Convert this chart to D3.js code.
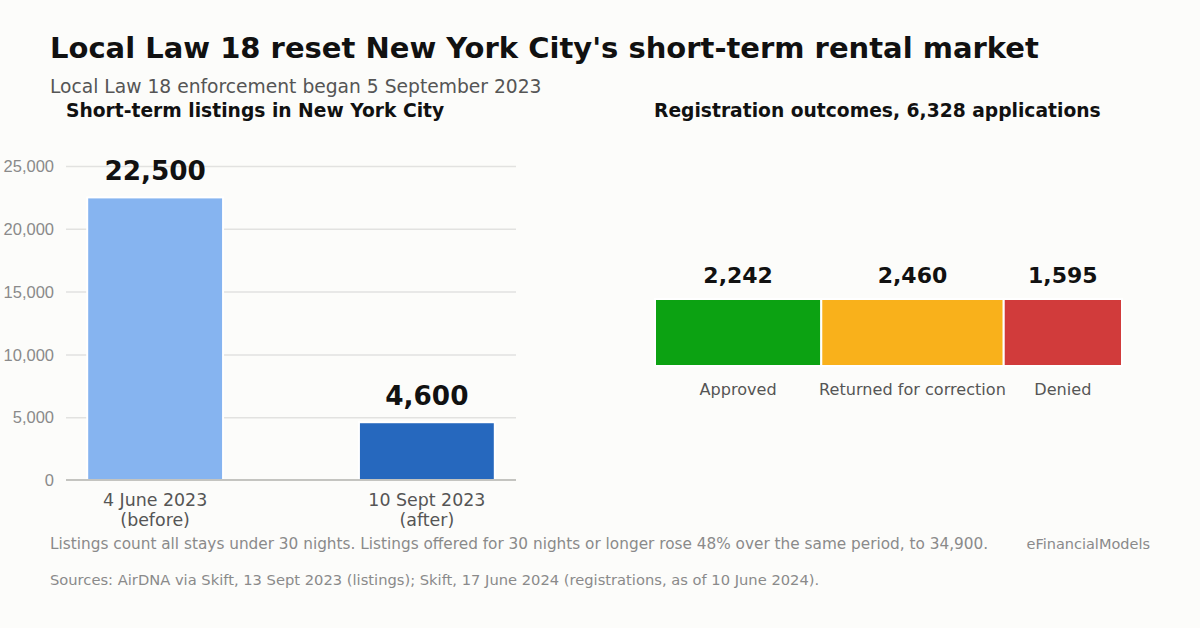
<!DOCTYPE html>
<html lang="en">
<head>
    <meta charset="UTF-8">
    <title>Local Law 18 reset New York City's short-term rental market</title>
    <script src="https://d3js.org/d3.v7.min.js"></script>
    <style>
        body {
            margin: 0;
            background-color: #fcfcfa;
            font-family: 'DejaVu Sans', sans-serif;
        }
        svg { display: block; }
        .grid line { stroke: #e2e2e0; stroke-width: 1.5; }
        .grid path { stroke: none; }
        .ytick text { fill: #8a8a8a; font-size: 16.5px; }
        .ytick path, .ytick line { stroke: none; }
    </style>
</head>
<body>
<div id="chart"></div>
<script>
    // Listings panel
    const listingDates = ["4 June 2023|(before)", "10 Sept 2023|(after)"];
    const listingCounts = [22500, 4600];
    const listingColors = ["#86b4f0", "#2668be"];
    const yTicks = [0, 5000, 10000, 15000, 20000, 25000];

    // Registration panel
    const outcomes = ["Approved", "Returned for correction", "Denied"];
    const outcomeCounts = [2242, 2460, 1595];
    const outcomeColors = ["#0ca212", "#f9b11b", "#d13b3b"];

    const W = 1200, H = 628;
    const fmt = d3.format(",");

    const svg = d3.select("#chart").append("svg")
        .attr("width", W)
        .attr("height", H);

    // Titles
    svg.append("text")
        .attr("x", 50).attr("y", 58)
        .style("font-size", "29px").style("font-weight", "bold").style("fill", "#111")
        .text("Local Law 18 reset New York City's short-term rental market");
    svg.append("text")
        .attr("x", 50).attr("y", 93)
        .style("font-size", "18.7px").style("fill", "#555")
        .text("Local Law 18 enforcement began 5 September 2023");
    svg.append("text")
        .attr("x", 66).attr("y", 117)
        .style("font-size", "18.7px").style("font-weight", "bold").style("fill", "#111")
        .text("Short-term listings in New York City");
    svg.append("text")
        .attr("x", 654).attr("y", 117)
        .style("font-size", "18.7px").style("font-weight", "bold").style("fill", "#111")
        .text("Registration outcomes, 6,328 applications");

    // Left panel: bar chart
    const left = { x0: 66, x1: 516, top: 166, bottom: 480 };

    const x = d3.scaleBand()
        .domain(listingDates)
        .range([left.x0, left.x1])
        .paddingInner(0.5)
        .paddingOuter(0.078);

    const y = d3.scaleLinear()
        .domain([0, 25000])
        .range([left.bottom, left.top]);

    // gridlines
    svg.append("g")
        .attr("class", "grid")
        .attr("transform", `translate(${left.x0},0)`)
        .call(d3.axisLeft(y).tickValues(yTicks.slice(1)).tickSize(-(left.x1 - left.x0)).tickFormat(""));

    // y tick labels
    svg.append("g")
        .attr("class", "ytick")
        .attr("transform", `translate(${left.x0 - 12},0)`)
        .call(d3.axisLeft(y).tickValues(yTicks).tickSize(0).tickPadding(0).tickFormat(fmt))
        .selectAll("text")
        .attr("dy", "0.35em");

    // bars
    svg.selectAll(".bar")
        .data(listingCounts)
        .enter()
        .append("rect")
        .attr("class", "bar")
        .attr("x", (d, i) => x(listingDates[i]))
        .attr("y", d => y(d))
        .attr("width", x.bandwidth())
        .attr("height", d => y(0) - y(d))
        .attr("fill", (d, i) => listingColors[i])
        .attr("stroke", "#ffffff")
        .attr("stroke-width", 2);

    // baseline
    svg.append("line")
        .attr("x1", left.x0).attr("x2", left.x1)
        .attr("y1", y(0)).attr("y2", y(0))
        .attr("stroke", "#c4c4c0").attr("stroke-width", 2);

    // value labels
    svg.selectAll(".value")
        .data(listingCounts)
        .enter()
        .append("text")
        .attr("x", (d, i) => x(listingDates[i]) + x.bandwidth() / 2)
        .attr("y", d => y(d) - 17)
        .attr("text-anchor", "middle")
        .style("font-size", "26.3px").style("font-weight", "bold").style("fill", "#111")
        .text(d => fmt(d));

    // category labels
    listingDates.forEach(cat => {
        const t = svg.append("text")
            .attr("x", x(cat) + x.bandwidth() / 2)
            .attr("y", 506)
            .attr("text-anchor", "middle")
            .style("font-size", "17.4px").style("fill", "#555");
        cat.split("|").forEach((line, j) => {
            t.append("tspan")
                .attr("x", x(cat) + x.bandwidth() / 2)
                .attr("dy", j === 0 ? 0 : 20)
                .text(line);
        });
    });

    // Right panel: single stacked bar
    const total = d3.sum(outcomeCounts);
    const starts = d3.cumsum([0].concat(outcomeCounts.slice(0, -1)));

    const xs = d3.scaleLinear()
        .domain([0, total])
        .range([655, 1122]);

    const barTop = 299, barH = 67;

    svg.selectAll(".seg")
        .data(outcomeCounts)
        .enter()
        .append("rect")
        .attr("x", (d, i) => xs(starts[i]))
        .attr("y", barTop)
        .attr("width", d => xs(d) - xs(0))
        .attr("height", barH)
        .attr("fill", (d, i) => outcomeColors[i])
        .attr("stroke", "#ffffff")
        .attr("stroke-width", 2);

    svg.selectAll(".segval")
        .data(outcomeCounts)
        .enter()
        .append("text")
        .attr("x", (d, i) => xs(starts[i] + d / 2))
        .attr("y", 283)
        .attr("text-anchor", "middle")
        .style("font-size", "22px").style("font-weight", "bold").style("fill", "#111")
        .text(d => fmt(d));

    svg.selectAll(".seglab")
        .data(outcomes)
        .enter()
        .append("text")
        .attr("x", (d, i) => xs(starts[i] + outcomeCounts[i] / 2))
        .attr("y", 395)
        .attr("text-anchor", "middle")
        .style("font-size", "16.1px").style("fill", "#555")
        .text(d => d);

    // Footer
    svg.append("text")
        .attr("x", 50).attr("y", 549)
        .style("font-size", "15.3px").style("fill", "#8a8a8a")
        .text("Listings count all stays under 30 nights. Listings offered for 30 nights or longer rose 48% over the same period, to 34,900.");
    svg.append("text")
        .attr("x", 1150).attr("y", 549)
        .attr("text-anchor", "end")
        .style("font-size", "14.5px").style("fill", "#8a8a8a")
        .text("eFinancialModels");
    svg.append("text")
        .attr("x", 50).attr("y", 585)
        .style("font-size", "14.7px").style("fill", "#8a8a8a")
        .text("Sources: AirDNA via Skift, 13 Sept 2023 (listings); Skift, 17 June 2024 (registrations, as of 10 June 2024).");
</script>
</body>
</html>
